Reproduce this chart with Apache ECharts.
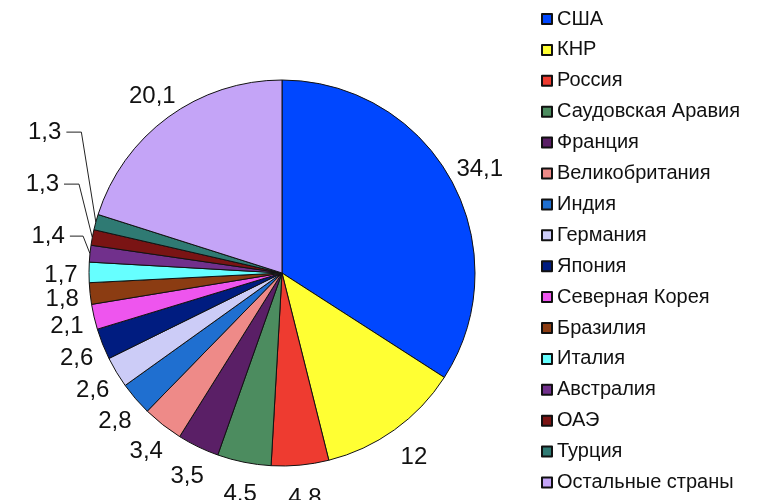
<!DOCTYPE html>
<html>
<head>
<meta charset="utf-8">
<script src="https://cdn.jsdelivr.net/npm/echarts@6/dist/echarts.min.js"></script>
<style>
  html, body { margin: 0; padding: 0; background: #fff; }
  #chart { width: 758px; height: 500px; }
</style>
</head>
<body>
<div id="chart"></div>
<script>
const countries = ['США', 'КНР', 'Россия', 'Саудовская Аравия', 'Франция', 'Великобритания', 'Индия', 'Германия',
  'Япония', 'Северная Корея', 'Бразилия', 'Италия', 'Австралия', 'ОАЭ', 'Турция', 'Остальные страны']
const shares = [34.1, 12, 4.8, 4.5, 3.5, 3.4, 2.8, 2.6, 2.6, 2.1, 1.8, 1.7, 1.4, 1.3, 1.3, 20.1]
const colors = ['#0047ff', '#ffff33', '#ee3b30', '#4c8c5f', '#5a1f66', '#ee8a88', '#1f6fd0', '#ccccf7',
  '#001c80', '#ee55ee', '#8b3c12', '#66ffff', '#71308c', '#7a1414', '#2f7a73', '#c4a4f7']
// slices whose labels are drawn with a leader line
const withLine = ['Австралия', 'ОАЭ', 'Турция']

const font = 'Liberation Sans, Arial, sans-serif'
const fmt = (p) => String(p.value).replace('.', ',')
const lift = -86

const chart = echarts.init(document.getElementById('chart'))

chart.setOption({
  animation: false,
  legend: {
    orient: 'vertical',
    left: 541,
    top: 9,
    height: 491,
    padding: 0,
    itemWidth: 10,
    itemHeight: 10,
    itemGap: 10.9,
    icon: 'rect',
    data: countries,
    textStyle: {
      fontFamily: font,
      fontSize: 20,
      lineHeight: 20,
      color: '#111'
    }
  },
  series: [
    {
      // the pie itself, leader-line labels only for the thin slices
      type: 'pie',
      center: [282, 273],
      radius: 193,
      startAngle: 90,
      clockwise: true,
      avoidLabelOverlap: true,
      data: countries.map((name, i) => ({
        name,
        value: shares[i],
        itemStyle: { color: colors[i] },
        label: { show: withLine.includes(name) },
        labelLine: { show: withLine.includes(name) }
      })),
      itemStyle: { borderColor: '#111', borderWidth: 1 },
      label: {
        position: 'outside',
        fontFamily: font,
        fontSize: 24,
        lineHeight: 50,
        color: '#111',
        formatter: fmt
      },
      labelLine: {
        length: 15,
        length2: 15,
        lineStyle: { color: '#222', width: 1 }
      },
      // lift the stacked thin-slice labels up beside the grey wedge,
      // keeping the leader line anchored on the slice edge
      labelLayout: (params) => {
        const pts = params.labelLinePoints
        if (!pts) return { dy: lift }
        return {
          dy: lift,
          labelLinePoints: [
            pts[0],
            [pts[1][0], pts[1][1] + lift],
            [pts[2][0], pts[2][1] + lift]
          ]
        }
      }
    },
    {
      // invisible ring carrying the other value labels around the rim
      type: 'pie',
      center: [284, 276],
      radius: [200, 240],
      startAngle: 90,
      clockwise: true,
      silent: true,
      legendHoverLink: false,
      avoidLabelOverlap: false,
      data: countries.map((name, i) => ({
        name,
        value: shares[i],
        label: { show: !withLine.includes(name) }
      })),
      itemStyle: { color: 'rgba(0,0,0,0)', borderWidth: 0 },
      label: {
        position: 'inside',
        fontFamily: font,
        fontSize: 24,
        color: '#111',
        formatter: fmt
      }
    }
  ]
})
</script>
</body>
</html>
